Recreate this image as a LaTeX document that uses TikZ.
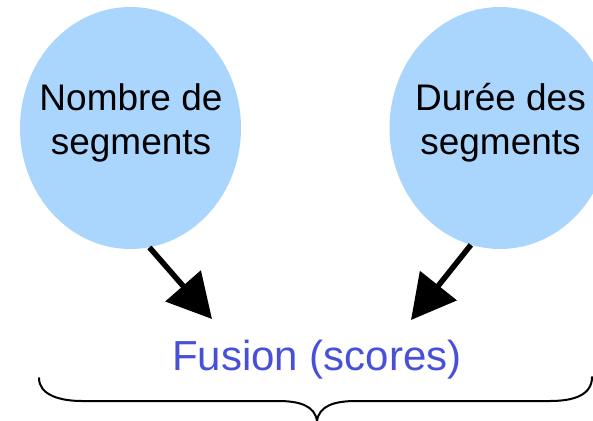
\documentclass[tikz,border=0pt]{standalone}
\usepackage{fontspec}
\setmainfont{Liberation Sans}
\usetikzlibrary{shapes.geometric,arrows.meta}
\definecolor{bubble}{RGB}{170,213,253}
\definecolor{fusionblue}{RGB}{72,80,216}
\tikzset{
  bubble/.style={ellipse, fill=bubble, draw=none, minimum width=221pt, minimum height=242pt, inner sep=0pt},
  bubbletext/.style={align=center, inner sep=0pt, font=\fontsize{37}{44}\selectfont},
  bigarrow/.style={line width=5.5pt, -{Triangle[length=44pt,width=46pt]}},
  bracepath/.style={line width=2pt, line cap=round}
}
\begin{document}
\begin{tikzpicture}[x=1pt,y=-1pt]
\useasboundingbox (0,0) rectangle (593,420);
\clip (0,0) rectangle (593,420);
\node[bubble] (nb) at (130.5,128) {};
\node[bubble] (nd) at (500,128) {};
\node[bubbletext] (nbt) at (131,122.5) {Nombre de\\segments};
\node[bubbletext] (ndt) at (500.5,122.5) {Durée des\\segments};
\node[inner sep=0pt, anchor=base, text=fusionblue, font=\fontsize{42}{48}\selectfont] (fusion) at (317,370.5) {Fusion (scores)};
\coordinate (t1) at (212,319);
\coordinate (t2) at (411,320);
\draw[bigarrow] (nb.-81) -- (t1);
\draw[bigarrow] (nd.-104) -- (t2);
\coordinate (bl) at (39,378);
\coordinate (br) at (592,377);
\coordinate (bt) at (317,421);
\draw[bracepath] (bl) .. controls (39,395) and (60,401) .. (82,401) -- (278,401)
  .. controls (300,401) and (315,406) .. (bt)
  .. controls (319,406) and (334,401) .. (356,401) -- (550,401)
  .. controls (574,401) and (592,395) .. (br);
\end{tikzpicture}
\end{document}
